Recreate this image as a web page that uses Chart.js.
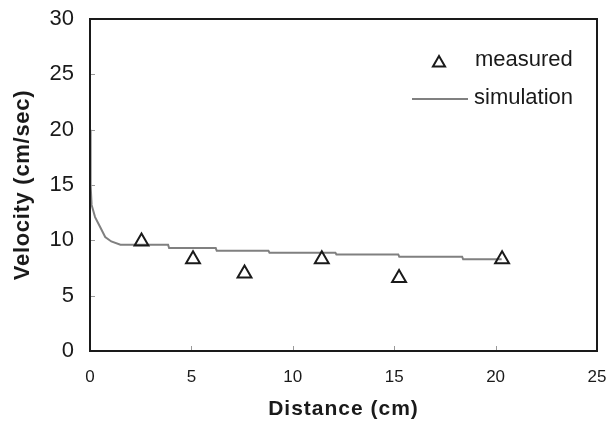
<!DOCTYPE html>
<html>
<head>
<meta charset="utf-8">
<script src="https://cdn.jsdelivr.net/npm/chart.js@4"></script>
<style>
  html, body { margin: 0; padding: 0; background: #fff; }
  #wrap { width: 608px; height: 427px; }
</style>
</head>
<body>
<div id="wrap"><canvas id="chart"></canvas></div>
<script>
// measured velocities at each probe distance (cm, cm/sec)
const measuredX = [2.54, 5.08, 7.62, 11.43, 15.24, 20.32];
const measuredY = [9.9, 8.3, 7.0, 8.3, 6.6, 8.3];

// simulation curve
const simX = [0, 0.03, 0.08, 0.25, 0.5, 0.75, 1.05, 1.5, 3.85, 3.9, 6.2, 6.25, 8.8, 8.85, 12.1, 12.15, 15.2, 15.25, 18.35, 18.4, 20.3];
const simY = [20, 15, 13.2, 12.1, 11.2, 10.3, 9.9, 9.6, 9.6, 9.3, 9.3, 9.05, 9.05, 8.88, 8.88, 8.73, 8.73, 8.52, 8.52, 8.28, 8.28];

const xTicks = [0, 5, 10, 15, 20, 25];
const yTicks = [0, 5, 10, 15, 20, 25, 30];

const FONT = 'Arial, "Liberation Sans", sans-serif';
const INK = '#1a1a1a';
const SIM = '#808080';

// frame, inward tick marks, axis titles and legend
const framePlugin = {
  id: 'frame',
  afterDatasetsDraw(chart) {
    const { ctx, chartArea: a, scales: { x, y } } = chart;
    ctx.save();
    ctx.strokeStyle = '#999';
    ctx.lineWidth = 1;
    ctx.beginPath();
    xTicks.forEach(v => {
      const px = Math.round(x.getPixelForValue(v)) + 0.5;
      ctx.moveTo(px, a.bottom);
      ctx.lineTo(px, a.bottom - 5);
    });
    yTicks.forEach(v => {
      const py = Math.round(y.getPixelForValue(v)) + 0.5;
      ctx.moveTo(a.left, py);
      ctx.lineTo(a.left + 5, py);
    });
    ctx.stroke();

    ctx.strokeStyle = INK;
    ctx.lineWidth = 2;
    ctx.strokeRect(a.left, a.top, a.right - a.left, a.bottom - a.top);

    // axis titles
    ctx.fillStyle = INK;
    ctx.textAlign = 'center';
    ctx.textBaseline = 'middle';
    ctx.font = 'bold 21px ' + FONT;
    ctx.letterSpacing = '1px';
    ctx.fillText('Distance (cm)', (a.left + a.right) / 2, 409);
    ctx.save();
    ctx.translate(23, (a.top + a.bottom) / 2);
    ctx.rotate(-Math.PI / 2);
    ctx.font = 'bold 22px ' + FONT;
    ctx.letterSpacing = '0.7px';
    ctx.fillText('Velocity (cm/sec)', 0, 0);
    ctx.restore();
    ctx.letterSpacing = '0px';

    // legend
    const r = 7;
    const tx = 439, ty = 63;
    ctx.strokeStyle = INK;
    ctx.lineWidth = 2;
    ctx.beginPath();
    ctx.moveTo(tx, ty - r);
    ctx.lineTo(tx + r * 0.866, ty + r / 2);
    ctx.lineTo(tx - r * 0.866, ty + r / 2);
    ctx.closePath();
    ctx.stroke();

    ctx.strokeStyle = SIM;
    ctx.beginPath();
    ctx.moveTo(412, 99);
    ctx.lineTo(468, 99);
    ctx.stroke();

    ctx.font = '22px ' + FONT;
    ctx.textAlign = 'left';
    ctx.fillText('measured', 475, 60);
    ctx.fillText('simulation', 474, 98);
    ctx.restore();
  }
};

new Chart(document.getElementById('chart'), {
  type: 'scatter',
  data: {
    datasets: [
      {
        label: 'measured',
        data: measuredX.map((v, i) => ({ x: v, y: measuredY[i] })),
        showLine: false,
        pointStyle: 'triangle',
        pointRadius: 8,
        pointHoverRadius: 8,
        borderColor: INK,
        borderWidth: 2,
        backgroundColor: 'rgba(0,0,0,0)',
        order: 0
      },
      {
        label: 'simulation',
        data: simX.map((v, i) => ({ x: v, y: simY[i] })),
        showLine: true,
        borderColor: SIM,
        borderWidth: 2,
        pointRadius: 0,
        tension: 0,
        order: 1
      }
    ]
  },
  options: {
    responsive: true,
    maintainAspectRatio: false,
    animation: false,
    layout: { padding: { top: 19, right: 11, left: 0, bottom: 0 } },
    plugins: {
      legend: { display: false },
      tooltip: { enabled: false }
    },
    scales: {
      x: {
        type: 'linear',
        min: 0,
        max: 25,
        afterFit: s => { s.height = 76; s.paddingLeft = 0; s.paddingRight = 0; },
        afterBuildTicks: s => { s.ticks = xTicks.map(v => ({ value: v })); },
        grid: { display: false, drawTicks: false },
        border: { display: false },
        ticks: { color: INK, font: { size: 17, family: FONT }, padding: 16, maxRotation: 0 }
      },
      y: {
        type: 'linear',
        min: 0,
        max: 30,
        afterFit: s => { s.width = 90; s.paddingTop = 0; s.paddingBottom = 0; },
        afterBuildTicks: s => { s.ticks = yTicks.map(v => ({ value: v })); },
        grid: { display: false, drawTicks: false },
        border: { display: false },
        ticks: { color: INK, font: { size: 22, family: FONT }, padding: 16 }
      }
    }
  },
  plugins: [framePlugin]
});
</script>
</body>
</html>
